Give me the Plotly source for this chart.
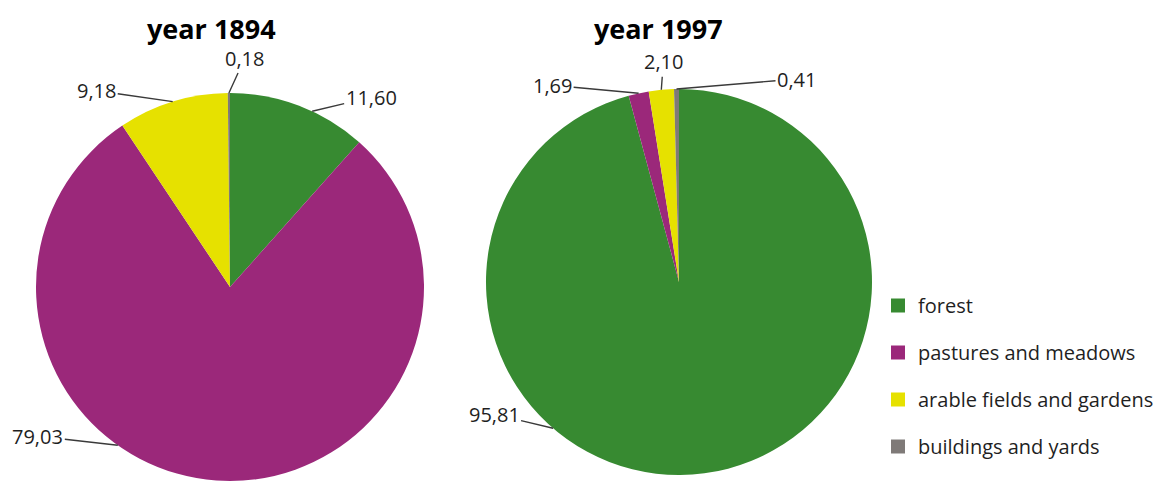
import math
import plotly.graph_objects as go

categories = ["forest", "pastures and meadows", "arable fields and gardens", "buildings and yards"]
values_1894 = [11.60, 79.03, 9.18, 0.18]
values_1997 = [95.81, 1.69, 2.10, 0.41]
titles = ["year 1894", "year 1997"]

colors = ["#378A31", "#9B287A", "#E6E100", "#7F7A78"]

W, H = 1176, 481
FONT = "Open Sans"
PAGE_OFF = 8  # default body margin of the html page

# pie geometry (pixels in the window): centre x, centre y, radius
pies = [
    dict(vals=values_1894, cx=230, cy=287, r=194, title=titles[0], tx=211,
         frac=[0.6, 0.61, 0.5, 0.5],
         off=[(59, -14), (-80, -9), (-76, -11), (16, -35)]),
    dict(vals=values_1997, cx=679, cy=282, r=193, title=titles[1], tx=658,
         frac=[0.64, 0.5, 0.5, 0.5],
         off=[(-59, -14), (-86, -8), (2, -28), (120, -10)]),
]

def px2x(px):
    return (px - PAGE_OFF) / W

def py2y(py):
    return 1 - (py - PAGE_OFF) / H

fig = go.Figure()
annotations = []

for p in pies:
    cx, cy, r = p["cx"], p["cy"], p["r"]
    fig.add_trace(go.Pie(
        labels=categories, values=p["vals"], sort=False, direction="clockwise",
        rotation=0, textinfo="none", hoverinfo="label+value",
        marker=dict(colors=colors, line=dict(width=0)),
        showlegend=False,
        domain=dict(x=[px2x(cx - r), px2x(cx + r)],
                    y=[max(0, py2y(cy + r)), py2y(cy - r)]),
    ))
    total = sum(p["vals"])
    cum = 0.0
    for i, v in enumerate(p["vals"]):
        start = cum / total * 360
        end = (cum + v) / total * 360
        cum += v
        ang = math.radians(start + (end - start) * p["frac"][i])
        ex = cx + r * math.sin(ang)
        ey = cy - r * math.cos(ang)
        ax, ay = p["off"][i]
        annotations.append(dict(
            x=px2x(ex), y=py2y(ey), xref="paper", yref="paper",
            text=f"{v:.2f}".replace(".", ","),
            showarrow=True, arrowhead=0, arrowwidth=1.4, arrowcolor="#3a3a3a",
            ax=ax, ay=ay, standoff=0,
            font=dict(family=FONT, size=20, color="#1f1f1f"),
        ))
    annotations.append(dict(
        x=px2x(p["tx"]), y=1.0, xref="paper", yref="paper",
        text=f"<b>{p['title']}</b>", showarrow=False,
        xanchor="center", yanchor="top",
        font=dict(family=FONT, size=27, color="#000000"),
    ))

# legend entries
for c, col in zip(categories, colors):
    fig.add_trace(go.Scatter(
        x=[None], y=[None], mode="markers", name=c, legendgroup=c,
        marker=dict(symbol="square", size=14, color=col),
    ))

fig.update_layout(
    width=W, height=H,
    margin=dict(l=0, r=0, t=0, b=0),
    paper_bgcolor="white", plot_bgcolor="white",
    xaxis=dict(visible=False), yaxis=dict(visible=False),
    annotations=annotations,
    legend=dict(x=px2x(878), y=py2y(286), xanchor="left", yanchor="top",
                font=dict(family=FONT, size=20, color="#1f1f1f"),
                tracegroupgap=18, bgcolor="rgba(0,0,0,0)"),
)

fig.write_html("out.html")
